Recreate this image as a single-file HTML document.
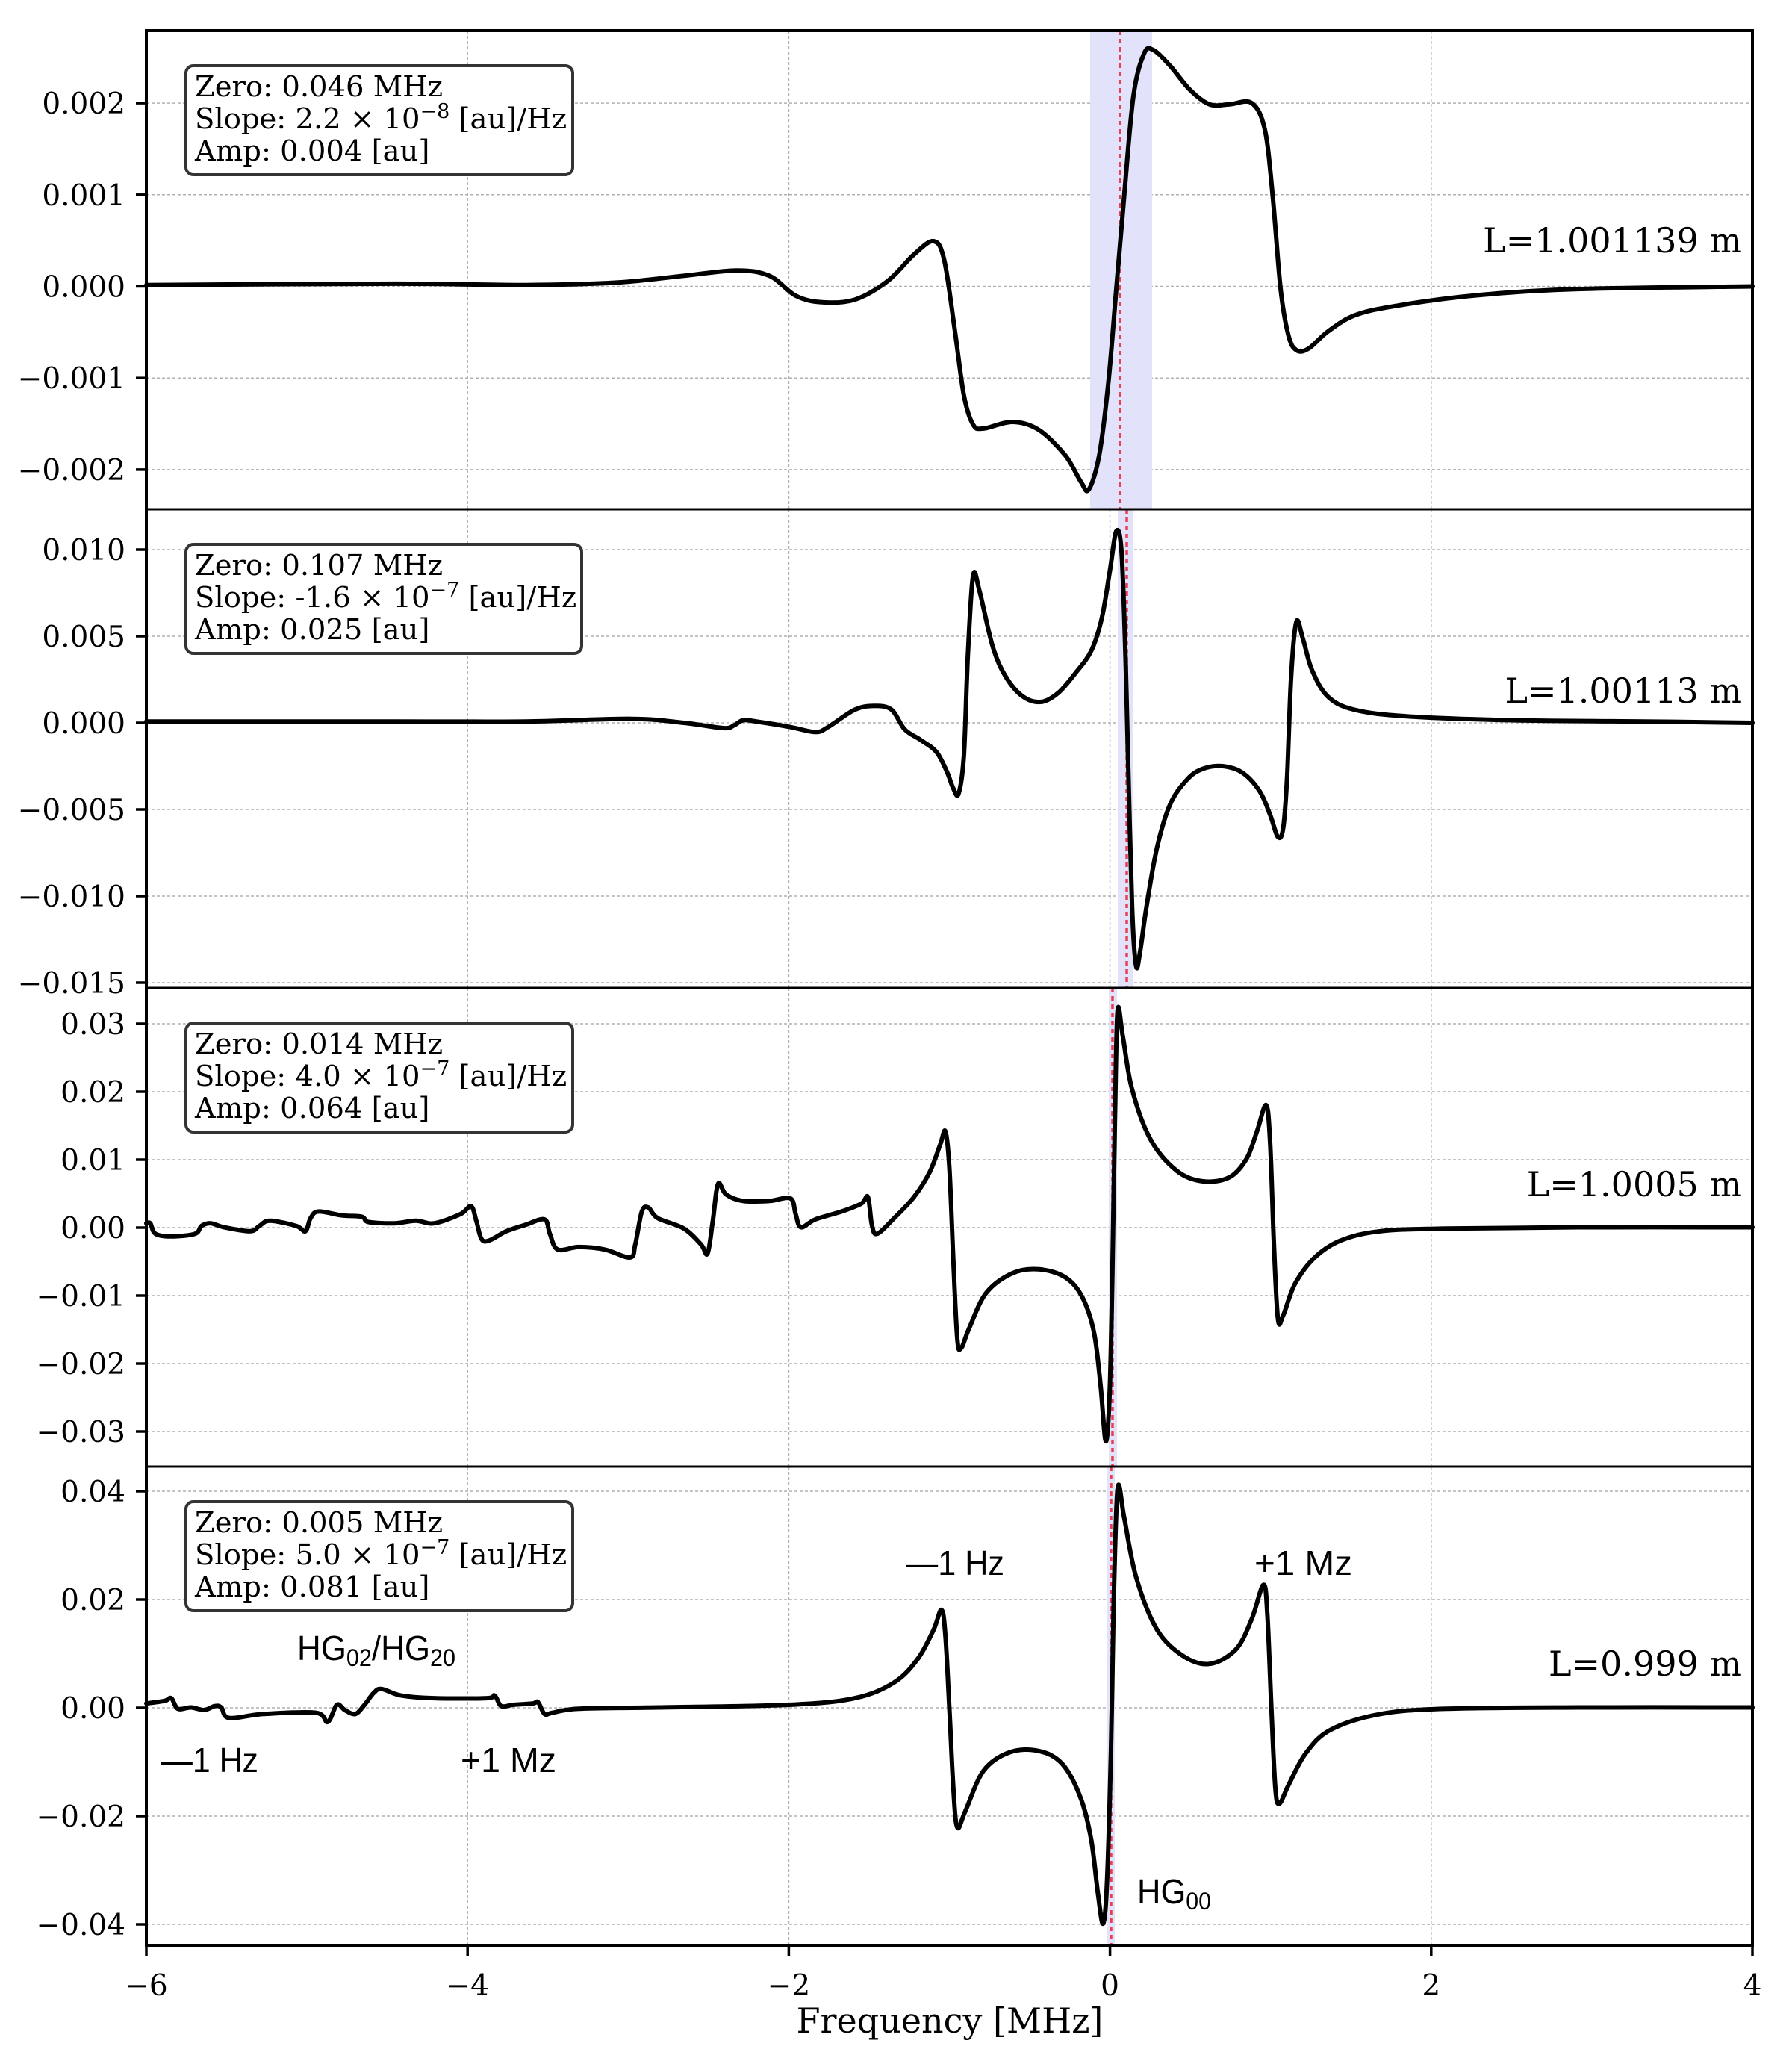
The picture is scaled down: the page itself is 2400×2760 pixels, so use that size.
<!DOCTYPE html>
<html><head><meta charset="utf-8">
<style>
html,body{margin:0;padding:0;background:#fff;}
svg{display:block;}
.tk{font-family:"DejaVu Serif","Liberation Serif",serif;font-size:39px;fill:#000;}
.bx{font-family:"DejaVu Serif","Liberation Serif",serif;font-size:38.5px;fill:#000;}
.L{font-family:"DejaVu Serif","Liberation Serif",serif;font-size:46px;fill:#000;}
.an{font-family:"Liberation Sans",sans-serif;font-size:46px;fill:#000;}
</style></head>
<body>
<svg id="s" width="2400" height="2760" viewBox="0 0 2400 2760" xmlns="http://www.w3.org/2000/svg">
<rect width="2400" height="2760" fill="#fff"/>
<g id="grid"></g>
<g id="bands"></g>
<g id="curves"></g>
<g id="frames"></g>
<g id="labels"></g>

<g>
<rect x="249" y="88" width="518" height="146" rx="10" fill="#fff" stroke="#333" stroke-width="4"/>
<text class="bx" x="261" y="129">Zero: 0.046 MHz</text>
<text class="bx" x="261" y="172">Slope: 2.2 × 10<tspan dy="-14" font-size="27">−8</tspan><tspan dy="14"> [au]/Hz</tspan></text>
<text class="bx" x="261" y="215">Amp: 0.004 [au]</text>

<rect x="249" y="729" width="530" height="146" rx="10" fill="#fff" stroke="#333" stroke-width="4"/>
<text class="bx" x="261" y="770">Zero: 0.107 MHz</text>
<text class="bx" x="261" y="813">Slope: -1.6 × 10<tspan dy="-14" font-size="27">−7</tspan><tspan dy="14"> [au]/Hz</tspan></text>
<text class="bx" x="261" y="856">Amp: 0.025 [au]</text>

<rect x="249" y="1370" width="518" height="146" rx="10" fill="#fff" stroke="#333" stroke-width="4"/>
<text class="bx" x="261" y="1411">Zero: 0.014 MHz</text>
<text class="bx" x="261" y="1454">Slope: 4.0 × 10<tspan dy="-14" font-size="27">−7</tspan><tspan dy="14"> [au]/Hz</tspan></text>
<text class="bx" x="261" y="1497">Amp: 0.064 [au]</text>

<rect x="249" y="2011" width="518" height="146" rx="10" fill="#fff" stroke="#333" stroke-width="4"/>
<text class="bx" x="261" y="2052">Zero: 0.005 MHz</text>
<text class="bx" x="261" y="2095">Slope: 5.0 × 10<tspan dy="-14" font-size="27">−7</tspan><tspan dy="14"> [au]/Hz</tspan></text>
<text class="bx" x="261" y="2138">Amp: 0.081 [au]</text>
</g>

<text class="L" x="2333" y="338" text-anchor="end">L=1.001139 m</text>
<text class="L" x="2333" y="941" text-anchor="end">L=1.00113 m</text>
<text class="L" x="2333" y="1602" text-anchor="end">L=1.0005 m</text>
<text class="L" x="2333" y="2244" text-anchor="end">L=0.999 m</text>

<text class="an" x="1213" y="2109" textLength="132" lengthAdjust="spacingAndGlyphs">—1 Hz</text>
<text class="an" x="1680" y="2109" textLength="131" lengthAdjust="spacingAndGlyphs">+1 Mz</text>
<text class="an" x="398" y="2223" textLength="212" lengthAdjust="spacingAndGlyphs">HG<tspan font-size="32" dy="8">02</tspan><tspan dy="-8">/HG</tspan><tspan font-size="32" dy="8">20</tspan></text>
<text class="an" x="215" y="2373" textLength="131" lengthAdjust="spacingAndGlyphs">—1 Hz</text>
<text class="an" x="617" y="2373" textLength="128" lengthAdjust="spacingAndGlyphs">+1 Mz</text>
<text class="an" x="1523" y="2549" textLength="99" lengthAdjust="spacingAndGlyphs">HG<tspan font-size="32" dy="8">00</tspan></text>

<text class="L" x="1272" y="2722" text-anchor="middle">Frequency [MHz]</text>
</svg>
<script>
(function(){
var NS="http://www.w3.org/2000/svg";
function el(p,t,a){var e=document.createElementNS(NS,t);for(var k in a)e.setAttribute(k,a[k]);p.appendChild(e);return e;}
var X0=196,XR=2347,XS=(XR-X0)/10;
function fx(m){return X0+(m+6)*XS;}
var P=[
 {top:41,bot:682,y0:383.5,s:122.7/0.001,ticks:[[0.002,"0.002"],[0.001,"0.001"],[0,"0.000"],[-0.001,"−0.001"],[-0.002,"−0.002"]],d1:[80,138],d2:[356,629],band:[1460,1543],red:1500},
 {top:682,bot:1323,y0:968,s:116/0.005,ticks:[[0.01,"0.010"],[0.005,"0.005"],[0,"0.000"],[-0.005,"−0.005"],[-0.01,"−0.010"],[-0.015,"−0.015"]],d1:[418,736],d2:[748,1316],band:[1497,1518],red:1509},
 {top:1323,bot:1964,y0:1644,s:91/0.01,ticks:[[0.03,"0.03"],[0.02,"0.02"],[0.01,"0.01"],[0,"0.00"],[-0.01,"−0.01"],[-0.02,"−0.02"],[-0.03,"−0.03"]],d1:[780,1371],d2:[1090,1916],band:[1485,1496],red:1490},
 {top:1964,bot:2605,y0:2287,s:72.5/0.01,ticks:[[0.04,"0.04"],[0.02,"0.02"],[0,"0.00"],[-0.02,"−0.02"],[-0.04,"−0.04"]],d1:[1135,1997],d2:[1463,2576],band:[1483,1493],red:1488}
];
var g=document.getElementById("grid"),b=document.getElementById("bands"),c=document.getElementById("curves"),f=document.getElementById("frames"),l=document.getElementById("labels");
P.forEach(function(p){
 [-4,-2,0,2].forEach(function(m){el(g,"line",{x1:fx(m),x2:fx(m),y1:p.top,y2:p.bot,stroke:"#b0b0b0","stroke-width":1.5,"stroke-dasharray":"4,3"});});
 p.ticks.forEach(function(t){var y=p.y0-t[0]*p.s;
  el(g,"line",{x1:X0,x2:XR,y1:y,y2:y,stroke:"#b0b0b0","stroke-width":1.5,"stroke-dasharray":"4,3"});
  el(f,"line",{x1:X0-14,x2:X0,y1:y,y2:y,stroke:"#000","stroke-width":3.5});
  var tx=el(l,"text",{x:168,y:y+14,"class":"tk","text-anchor":"end"});tx.textContent=t[1];
 });
 el(b,"rect",{x:p.band[0],y:p.top,width:p.band[1]-p.band[0],height:p.bot-p.top,fill:"#e2e2fb"});
 el(b,"line",{x1:p.red,x2:p.red,y1:p.top,y2:p.bot,stroke:"#e8404f","stroke-width":3.5,"stroke-dasharray":"6,5"});
});
el(f,"rect",{x:X0,y:41,width:XR-X0,height:2605-41,fill:"none",stroke:"#000","stroke-width":4});
[682,1323,1964].forEach(function(y){el(f,"line",{x1:X0,x2:XR,y1:y,y2:y,stroke:"#000","stroke-width":3});});
[-6,-4,-2,0,2,4].forEach(function(m){var x=fx(m);el(f,"line",{x1:x,x2:x,y1:2605,y2:2619,stroke:"#000","stroke-width":3.5});
 var t=el(l,"text",{x:x,y:2672,"class":"tk","text-anchor":"middle"});t.textContent=(m<0?"−"+(-m):""+m);});

var D=[
[[111,217],[300,216],[400,217],[470,215],[520,210],[560,206],[585,210],[605,225],[625,230],[650,228],[675,214],[695,194],[710,184],[718,198],[726,250],[733,300],[740,322],[748,325],[770,320],[790,326],[810,345],[822,365],[828,371],[836,345],[843,290],[849,220],[855,150],[862,75],[870,43],[877,40],[890,52],[905,70],[920,81],[935,81],[952,80],[962,100],[968,150],[974,220],[980,255],[986,266],[995,265],[1010,252],[1030,240],[1060,233],[1120,225],[1200,220],[1333,218]],
[[111,549],[300,549],[400,549],[480,547],[520,550],[550,554],[558,552],[565,548],[575,549],[600,553],[620,557],[630,553],[650,540],[665,537],[678,540],[688,555],[700,563],[712,572],[720,587],[725,600],[729,604],[733,575],[736,500],[740,438],[745,450],[755,492],[765,515],[778,530],[792,534],[805,527],[818,512],[830,495],[838,470],[844,435],[849,404],[853,420],[856,500],[858,580],[861,690],[864,735],[867,725],[872,690],[880,645],[890,612],[903,593],[915,585],[930,583],[945,588],[958,602],[966,620],[972,637],[976,630],[979,590],[982,515],[986,473],[991,486],[998,510],[1010,530],[1030,540],[1070,545],[1150,548],[1250,549],[1333,550]],
[[111,932],[114,932],[118,940],[130,942],[148,940],[153,934],[160,932],[170,935],[190,938],[197,934],[205,930],[225,934],[232,938],[236,928],[242,923],[260,926],[275,927],[280,931],[300,932],[316,930],[330,932],[350,925],[358,919],[362,930],[366,944],[372,945],[385,938],[400,933],[414,929],[418,940],[424,952],[440,950],[460,952],[479,958],[483,948],[488,923],[493,920],[500,928],[520,936],[533,948],[538,955],[542,930],[546,902],[552,910],[565,915],[585,915],[601,913],[605,925],[609,935],[620,929],[640,923],[655,917],[660,912],[663,933],[667,940],[680,928],[695,912],[707,893],[715,872],[719,862],[722,890],[725,960],[728,1020],[731,1027],[737,1012],[750,985],[770,970],[790,967],[810,973],[823,988],[832,1015],[837,1055],[841,1098],[844,1060],[846,970],[848,850],[850,770],[854,790],[861,830],[875,868],[895,892],[915,900],[935,897],[948,883],[956,862],[963,842],[966,870],[969,950],[972,1005],[976,1002],[985,978],[1000,958],[1020,945],[1050,938],[1100,936],[1200,935],[1333,935]],
[[111,1296],[125,1294],[130,1292],[135,1300],[145,1299],[155,1301],[163,1298],[168,1299],[174,1307],[200,1304],[240,1303],[249,1310],[256,1297],[262,1301],[270,1304],[277,1297],[284,1288],[290,1285],[305,1290],[330,1292],[370,1292],[376,1290],[381,1298],[390,1297],[405,1296],[409,1295],[414,1304],[420,1303],[440,1300],[500,1299],[600,1297],[650,1292],[680,1280],[698,1262],[710,1240],[716,1225],[719,1245],[722,1300],[725,1360],[728,1390],[734,1378],[748,1347],[768,1333],[790,1332],[808,1342],[822,1368],[830,1400],[835,1440],[839,1463],[842,1430],[845,1330],[847,1220],[850,1133],[855,1155],[864,1200],[880,1240],[900,1260],[920,1266],[940,1255],[952,1232],[961,1206],[964,1230],[967,1300],[970,1360],[973,1372],[980,1358],[993,1334],[1012,1316],[1050,1304],[1100,1300],[1200,1299],[1333,1299]]
];
D.forEach(function(pts,i){
 var p=P[i];
 var q=pts.map(function(a){return [X0+(a[0]-111)*(XR-X0)/1222, p.d1[1]+(a[1]-p.d1[0])*(p.d2[1]-p.d1[1])/(p.d2[0]-p.d1[0])];});
 var d="M"+q[0][0].toFixed(1)+","+q[0][1].toFixed(1);
 for(var k=0;k<q.length-1;k++){
  var p0=q[Math.max(0,k-1)],p1=q[k],p2=q[k+1],p3=q[Math.min(q.length-1,k+2)];
  var c1=[p1[0]+(p2[0]-p0[0])/6,p1[1]+(p2[1]-p0[1])/6];
  var c2=[p2[0]-(p3[0]-p1[0])/6,p2[1]-(p3[1]-p1[1])/6];
  d+=" C"+c1[0].toFixed(1)+","+c1[1].toFixed(1)+" "+c2[0].toFixed(1)+","+c2[1].toFixed(1)+" "+p2[0].toFixed(1)+","+p2[1].toFixed(1);
 }
 el(c,"path",{d:d,fill:"none",stroke:"#000","stroke-width":6,"stroke-linejoin":"round","stroke-linecap":"round"});
});
})();
</script>
</body></html>
